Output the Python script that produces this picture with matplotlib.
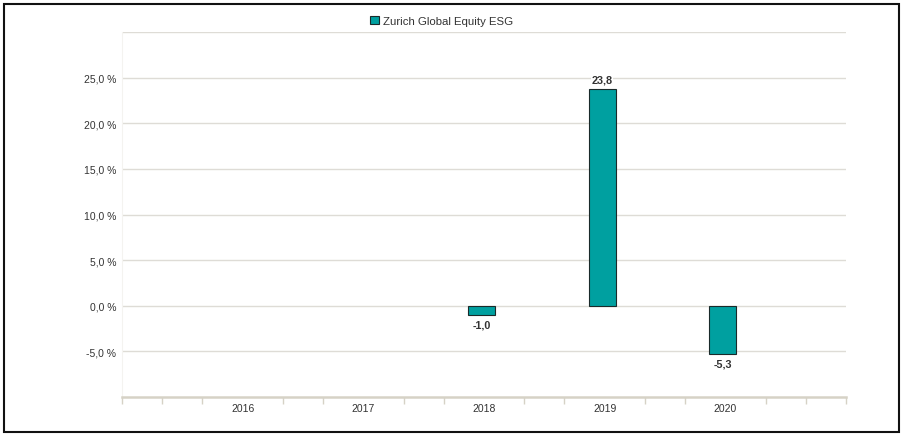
import numpy as np
import matplotlib
matplotlib.use("Agg")
from matplotlib import pyplot as plt
from matplotlib.patches import Rectangle

plt.rcParams['font.family'] = ['Liberation Sans', 'DejaVu Sans']

years = ['2016', '2017', '2018', '2019', '2020']
values = [np.nan, np.nan, -1.0, 23.8, -5.3]
series_name = 'Zurich Global Equity ESG'
y_ticks = [-5, 0, 5, 10, 15, 20, 25]

bar_color = '#00a0a0'
grid_color = '#dedcd6'
axis_color = '#d6d2c6'
text_color = '#333333'

fig = plt.figure(figsize=(9.01, 4.35), dpi=100)
ax = fig.add_axes([122/901, 1-398/435, (846-122)/901, (398-33)/435])

x = np.arange(len(years))
ax.bar(x - 0.02, values, width=0.225, color=bar_color, edgecolor='#1a2a2a',
       linewidth=0.8, zorder=3, label=series_name)

for xi, v in zip(x, values):
    if np.isnan(v):
        continue
    label = '{:.1f}'.format(v).replace('.', ',')
    if v >= 0:
        ax.text(xi - 0.02, v + 0.5, label, ha='center', va='bottom', fontsize=7.8,
                fontweight='bold', color=text_color, zorder=4,
                bbox=dict(facecolor='white', edgecolor='none', pad=0.5))
    else:
        ax.text(xi - 0.02, v - 0.5, label, ha='center', va='top', fontsize=7.8,
                fontweight='bold', color=text_color, zorder=4)

ax.set_xlim(-1, 5)
ax.set_ylim(-10, 30)

# horizontal grid (30 % line has no label)
for g in y_ticks + [30]:
    ax.axhline(g, color=grid_color, linewidth=1.0, zorder=1)
ax.set_yticks(y_ticks)
ax.set_yticklabels(['{:.1f} %'.format(t).replace('.', ',') for t in y_ticks],
                   fontsize=7.5, color=text_color)
ax.tick_params(axis='y', length=0, pad=4)

ax.set_xticks(x)
ax.set_xticklabels(years, fontsize=7.5, color=text_color)
ax.tick_params(axis='x', length=0, pad=4)
minor = [k / 3 for k in range(-3, 16) if k % 3 != 0 or k in (-3, 15)]
ax.set_xticks(minor, minor=True)
ax.tick_params(axis='x', which='minor', length=5, width=1.0, color=axis_color)

for s in ['top', 'right']:
    ax.spines[s].set_visible(False)
ax.spines['left'].set_color('#f4f3f0')
ax.spines['left'].set_linewidth(0.8)
ax.spines['bottom'].set_color(axis_color)
ax.spines['bottom'].set_linewidth(1.8)

fig.legend(loc='upper center', bbox_to_anchor=(0.49, 0.985), frameon=False,
           fontsize=8.2, handlelength=0.8, handleheight=0.8, handletextpad=0.4,
           labelcolor=text_color)

fig.patches.append(Rectangle((4/901, 1-433/435), (899-4)/901, (433-5)/435,
                             transform=fig.transFigure, fill=False,
                             edgecolor='#111111', linewidth=1.5))

fig.savefig('out.png', dpi=100)
